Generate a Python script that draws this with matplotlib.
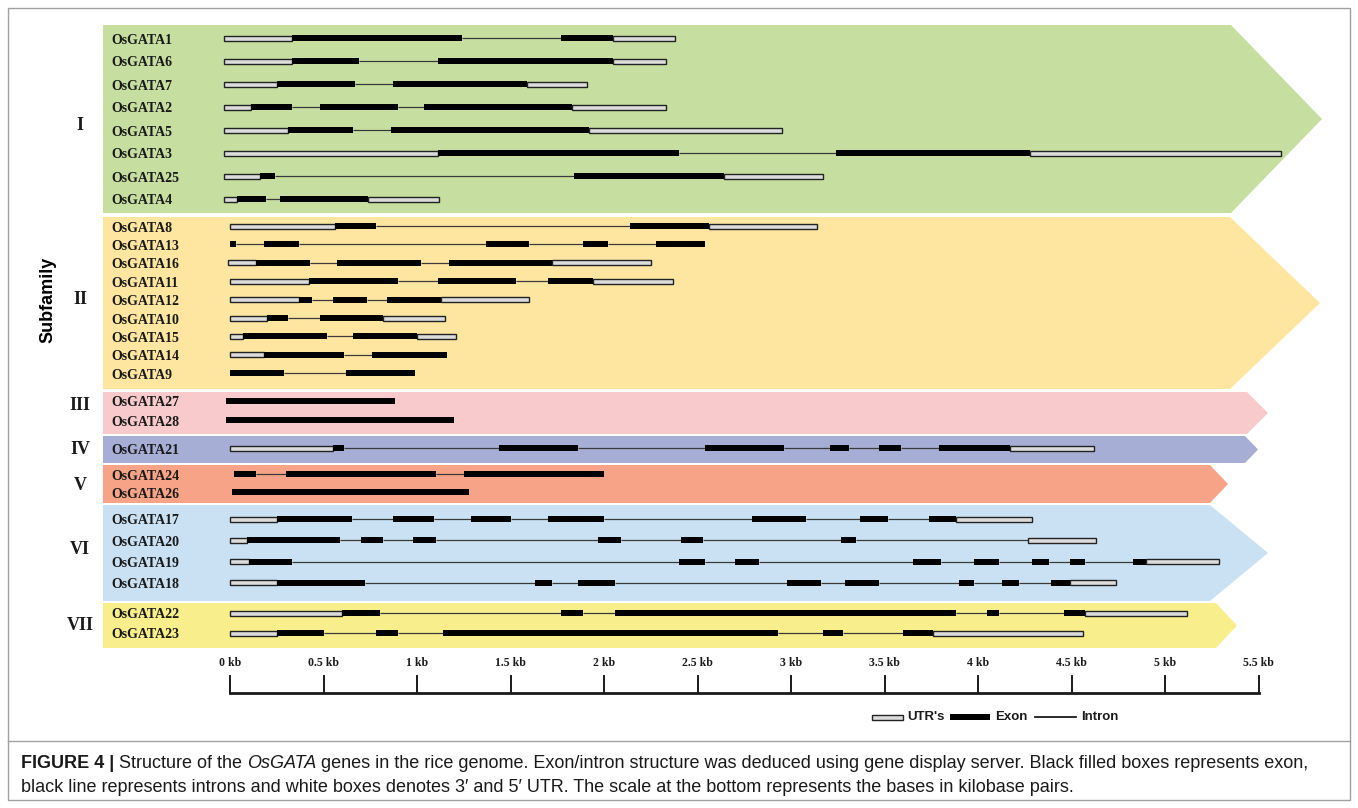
import matplotlib
matplotlib.use("Agg")
import matplotlib.pyplot as plt
from matplotlib.patches import Polygon, Rectangle
from matplotlib.transforms import IdentityTransform

# =============================================================================
# DATA — exon/intron layout of the OsGATA genes (positions in kb)
# U = UTR, E = exon, I = intron; edges are the segment boundaries
# =============================================================================

subfamilies = ["I", "II", "III", "IV", "V", "VI", "VII"]

genes_I = ["OsGATA1", "OsGATA6", "OsGATA7", "OsGATA2", "OsGATA5", "OsGATA3", "OsGATA25", "OsGATA4"]
parts_I = ["UEIEU", "UEIEU", "UEIEU", "UEIEIEU", "UEIEU", "UEIEU", "UEIEU", "UEIEU"]
edges_I = [
    [-0.03, 0.33, 1.24, 1.77, 2.05, 2.38],
    [-0.03, 0.33, 0.69, 1.11, 2.05, 2.33],
    [-0.03, 0.25, 0.67, 0.87, 1.59, 1.91],
    [-0.03, 0.11, 0.33, 0.48, 0.90, 1.04, 1.83, 2.33],
    [-0.03, 0.31, 0.66, 0.86, 1.92, 2.95],
    [-0.03, 1.11, 2.40, 3.24, 4.28, 5.62],
    [-0.03, 0.16, 0.24, 1.84, 2.64, 3.17],
    [-0.03, 0.04, 0.19, 0.27, 0.74, 1.12],
]

genes_II = ["OsGATA8", "OsGATA13", "OsGATA16", "OsGATA11", "OsGATA12", "OsGATA10", "OsGATA15", "OsGATA14", "OsGATA9"]
parts_II = ["UEIEU", "EIEIEIEIE", "UEIEIEU", "UEIEIEU", "UEIEIEU", "UEIEU", "UEIEU", "UEIE", "EIE"]
edges_II = [
    [0.00, 0.56, 0.78, 2.14, 2.56, 3.14],
    [0.00, 0.03, 0.18, 0.37, 1.37, 1.60, 1.89, 2.02, 2.28, 2.54],
    [-0.01, 0.14, 0.43, 0.57, 1.02, 1.17, 1.72, 2.25],
    [0.00, 0.42, 0.90, 1.11, 1.53, 1.70, 1.94, 2.37],
    [0.00, 0.37, 0.44, 0.55, 0.73, 0.84, 1.13, 1.60],
    [0.00, 0.20, 0.31, 0.48, 0.82, 1.15],
    [0.00, 0.07, 0.52, 0.66, 1.00, 1.21],
    [0.00, 0.18, 0.61, 0.76, 1.16],
    [0.00, 0.29, 0.62, 0.99],
]

genes_III = ["OsGATA27", "OsGATA28"]
parts_III = ["E", "E"]
edges_III = [[-0.02, 0.88], [-0.02, 1.20]]

genes_IV = ["OsGATA21"]
parts_IV = ["UEIEIEIEIEIEU"]
edges_IV = [[0.00, 0.55, 0.61, 1.44, 1.86, 2.54, 2.96, 3.21, 3.31, 3.47, 3.59, 3.79, 4.17, 4.62]]

genes_V = ["OsGATA24", "OsGATA26"]
parts_V = ["EIEIE", "E"]
edges_V = [[0.02, 0.14, 0.30, 1.10, 1.25, 2.00], [0.01, 1.28]]

genes_VI = ["OsGATA17", "OsGATA20", "OsGATA19", "OsGATA18"]
parts_VI = ["UEIEIEIEIEIEIEU", "UEIEIEIEIEIEIU", "UEIEIEIEIEIEIEIEU", "UEIEIEIEIEIEIEIEU"]
edges_VI = [
    [0.00, 0.25, 0.65, 0.87, 1.09, 1.29, 1.50, 1.70, 2.00, 2.79, 3.08, 3.37, 3.52, 3.74, 3.88, 4.29],
    [0.00, 0.09, 0.59, 0.70, 0.82, 0.98, 1.10, 1.97, 2.09, 2.41, 2.53, 3.27, 3.35, 4.27, 4.63],
    [0.00, 0.10, 0.33, 2.40, 2.54, 2.70, 2.83, 3.65, 3.80, 3.98, 4.11, 4.29, 4.38, 4.49, 4.57, 4.83, 4.90, 5.29],
    [0.00, 0.25, 0.72, 1.63, 1.72, 1.86, 2.06, 2.98, 3.16, 3.29, 3.47, 3.90, 3.98, 4.13, 4.22, 4.39, 4.49, 4.74],
]

genes_VII = ["OsGATA22", "OsGATA23"]
parts_VII = ["UEIEIEIEIEU", "UEIEIEIEIEU"]
edges_VII = [
    [0.00, 0.60, 0.80, 1.77, 1.89, 2.06, 3.88, 4.05, 4.11, 4.46, 4.57, 5.12],
    [0.00, 0.25, 0.50, 0.78, 0.90, 1.14, 2.93, 3.17, 3.28, 3.60, 3.76, 4.56],
]

scale_ticks = [0, 0.5, 1, 1.5, 2, 2.5, 3, 3.5, 4, 4.5, 5, 5.5]
scale_labels = ["0 kb", "0.5 kb", "1 kb", "1.5 kb", "2 kb", "2.5 kb", "3 kb",
                "3.5 kb", "4 kb", "4.5 kb", "5 kb", "5.5 kb"]

# =============================================================================
# LAYOUT (pixels from the top-left of the figure)
# =============================================================================

W, H = 1358, 808
X0, PX_PER_KB = 230, 187.0

# band: top, bottom, body end, arrow tip, first row y, row step, colour, numeral y
bands = [
    (25, 213, 1231, 1322, 38, 23.0, "#c6dfa0", 126),
    (217, 389, 1230, 1320, 226, 18.4, "#fee5a0", 299),
    (392, 434, 1247, 1268, 401, 19.0, "#f8cacb", 406),
    (436, 463, 1245, 1258, 448, 0.0, "#a6aed5", 450),
    (465, 503, 1210, 1228, 474, 18.0, "#f7a387", 485),
    (505, 601, 1210, 1268, 519, 21.3, "#c9e1f3", 550),
    (603, 648, 1216, 1237, 613, 20.0, "#f8ef8c", 626),
]

group_genes = [genes_I, genes_II, genes_III, genes_IV, genes_V, genes_VI, genes_VII]
group_parts = [parts_I, parts_II, parts_III, parts_IV, parts_V, parts_VI, parts_VII]
group_edges = [edges_I, edges_II, edges_III, edges_IV, edges_V, edges_VI, edges_VII]

SERIF = ["Liberation Serif", "DejaVu Serif"]
SANS = ["Liberation Sans", "DejaVu Sans"]

UTR_FILL = "#dcdcdc"
BAR_H = 6


def kb(xpx):
    """Convert a horizontal pixel position to the kb axis."""
    return (xpx - X0) / PX_PER_KB


fig = plt.figure(figsize=(W / 100, H / 100), dpi=100)
ax = fig.add_axes([0, 0, 1, 1])
ax.set_xlim(kb(0), kb(W))
ax.set_ylim(H, 0)
ax.axis("off")

# outer frame and caption separator
ax.add_patch(Rectangle((kb(8), 8), kb(1350) - kb(8), 792, fill=False,
                       edgecolor="#a0a0a0", linewidth=1.0))
ax.plot([kb(8), kb(1350)], [741, 741], color="#a0a0a0", linewidth=1.0)

# =============================================================================
# SUBFAMILY BANDS + GENE MODELS
# =============================================================================

left = kb(103)
for (top, bot, body, tip, y0, step, color, ny), numeral, names, parts, edges in zip(
        bands, subfamilies, group_genes, group_parts, group_edges):
    mid = (top + bot) / 2
    ax.add_patch(Polygon([(left, top), (kb(body), top), (kb(tip), mid),
                          (kb(body), bot), (left, bot)],
                         closed=True, facecolor=color, edgecolor="none", zorder=1))
    ax.text(kb(80), ny, numeral, family=SERIF, fontweight="bold", fontsize=13,
            ha="center", va="center", color="#1a1a1a", zorder=3)

    for i, (name, kinds, e) in enumerate(zip(names, parts, edges)):
        y = y0 + i * step
        ax.text(kb(111), y + 2, name, family=SERIF, fontweight="bold", fontsize=10,
                ha="left", va="center", color="#1a1a1a", zorder=3)
        for k, a, b in zip(kinds, e[:-1], e[1:]):
            if k == "I":
                ax.plot([a, b], [y, y], color="#3a3a3a", linewidth=0.9,
                        solid_capstyle="butt", zorder=2)
            elif k == "E":
                ax.barh(y, b - a, left=a, height=BAR_H, color="black",
                        edgecolor="none", zorder=3)
            else:
                ax.barh(y, b - a, left=a, height=BAR_H - 1, color=UTR_FILL,
                        edgecolor="#222222", linewidth=1.0, zorder=3)

ax.text(kb(48), 300, "Subfamily", rotation=90, fontsize=13, fontweight="bold",
        family=SANS, ha="center", va="center")

# =============================================================================
# SCALE BAR
# =============================================================================

ax.plot([scale_ticks[0], scale_ticks[-1]], [693, 693], color="#1a1a1a", linewidth=2)
for t, lab in zip(scale_ticks, scale_labels):
    ax.plot([t, t], [676, 693], color="#1a1a1a", linewidth=1.4)
    ax.text(t, 663, lab, family=SERIF, fontweight="bold", fontsize=8.5,
            ha="center", va="center", color="#1a1a1a")

# legend
ax.barh(717, kb(903) - kb(872), left=kb(872), height=5, color=UTR_FILL,
        edgecolor="#222222", linewidth=1.0)
ax.text(kb(907), 717, "UTR's", family=SANS, fontweight="bold", fontsize=9.5,
        ha="left", va="center", color="#1a1a1a")
ax.barh(717, kb(990) - kb(950), left=kb(950), height=6, color="black")
ax.text(kb(995), 717, "Exon", family=SANS, fontweight="bold", fontsize=9.5,
        ha="left", va="center", color="#1a1a1a")
ax.plot([kb(1035), kb(1076)], [717, 717], color="#1a1a1a", linewidth=1.3)
ax.text(kb(1081), 717, "Intron", family=SANS, fontweight="bold", fontsize=9.5,
        ha="left", va="center", color="#1a1a1a")

# =============================================================================
# CAPTION
# =============================================================================

renderer = fig.canvas.get_renderer()


def draw_runs(runs, x, ypix, size):
    for txt, weight, style in runs:
        t = fig.text(x, H - ypix, txt, transform=IdentityTransform(), fontsize=size,
                     fontweight=weight, fontstyle=style, family=SANS,
                     ha="left", va="center", color="#1a1a1a")
        x = t.get_window_extent(renderer).x1


line1 = [("FIGURE 4 |", "bold", "normal"),
         (" Structure of the ", "normal", "normal"),
         ("OsGATA", "normal", "italic"),
         (" genes in the rice genome. Exon/intron structure was deduced using gene display "
          "server. Black filled boxes represents exon,", "normal", "normal")]
line2 = [("black line represents introns and white boxes denotes 3\u2032 and 5\u2032 UTR. "
          "The scale at the bottom represents the bases in kilobase pairs.", "normal", "normal")]

draw_runs(line1, 21, 764, 13)
draw_runs(line2, 21, 787, 13)

fig.savefig("out.png", dpi=100)
